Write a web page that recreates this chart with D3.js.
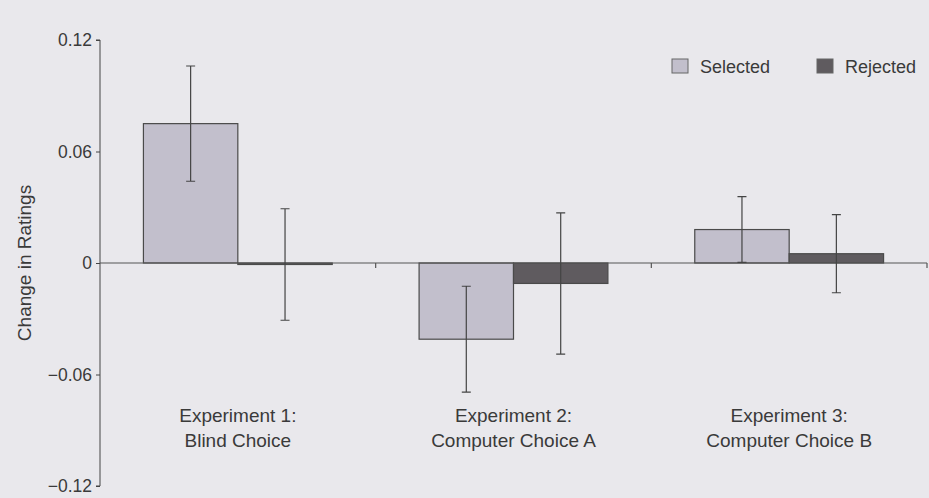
<!DOCTYPE html>
<html>
<head>
    <style>
        body { margin: 0; background: #e9e8ec; }
        svg { display: block; font-family: "Liberation Sans", Arial, sans-serif; }
        .tick text { font-size: 17.5px; fill: #3a3a3a; }
        .cat { font-size: 19px; fill: #3a3a3a; text-anchor: middle; }
        .legend text { font-size: 18px; fill: #3a3a3a; }
    </style>
    <script src="https://d3js.org/d3.v7.min.js"></script>
</head>
<body>
    <svg width="929" height="498"></svg>
    <script>
        // data
        var groups = ["exp1", "exp2", "exp3"];
        var groupLines = [["Experiment 1:", "Blind Choice"], ["Experiment 2:", "Computer Choice A"], ["Experiment 3:", "Computer Choice B"]];
        var series = ["Selected", "Rejected"];
        var selected = [0.075, -0.041, 0.018];
        var selectedErr = [0.031, 0.0285, 0.0177];
        var rejected = [-0.0008, -0.011, 0.005];
        var rejectedErr = [0.030, 0.038, 0.021];
        var yTicks = [-0.12, -0.06, 0, 0.06, 0.12];
        var yTickLabels = ["\u22120.12", "\u22120.06", "0", "0.06", "0.12"];

        var colors = { Selected: "#c2bfcc", Rejected: "#5f5b5f" };

        var svg = d3.select("svg");

        var x0 = d3.scaleBand().domain(groups).range([100, 927]).padding(0);
        var x1 = d3.scaleBand().domain(series).range([0, x0.bandwidth()]).paddingInner(0).paddingOuter(0.46);
        var y = d3.scaleLinear().domain([-0.12, 0.12]).range([486, 40]);

        var rows = [];
        groups.forEach(function(g, i) {
            rows.push({ group: g, key: "Selected", value: selected[i], err: selectedErr[i] });
            rows.push({ group: g, key: "Rejected", value: rejected[i], err: rejectedErr[i] });
        });

        // y axis
        var yAxis = svg.append("g").attr("transform", "translate(100,0)")
            .call(d3.axisLeft(y).tickValues(yTicks).tickSize(4).tickPadding(4)
                .tickFormat(function(d, i) { return yTickLabels[i]; }));
        yAxis.attr("font-family", null).attr("font-size", null);
        yAxis.select(".domain").attr("stroke", "#444").attr("d", "M-4," + y(0.12) + "H0V" + y(-0.12) + "H-4");
        yAxis.selectAll(".tick line").attr("stroke", "#444");

        svg.append("text")
            .attr("transform", "translate(31," + y(0) + ") rotate(-90)")
            .attr("text-anchor", "middle")
            .style("font-size", "19px").style("fill", "#3a3a3a")
            .text("Change in Ratings");

        // bars
        svg.append("g").selectAll("rect").data(rows).enter().append("rect")
            .attr("x", function(d) { return x0(d.group) + x1(d.key); })
            .attr("width", x1.bandwidth())
            .attr("y", function(d) { return y(Math.max(0, d.value)); })
            .attr("height", function(d) { return Math.abs(y(d.value) - y(0)); })
            .attr("fill", function(d) { return colors[d.key]; })
            .attr("stroke", "#4a4a4a").attr("stroke-width", 1.2);

        // zero axis with ticks between groups
        var xAxis = svg.append("g").attr("transform", "translate(0," + y(0) + ")");
        xAxis.append("line").attr("x1", 100).attr("x2", 927).attr("stroke", "#555").attr("stroke-width", 1.2);
        xAxis.selectAll(".xt").data(groups).enter().append("line")
            .attr("x1", function(d) { return x0(d) + x0.bandwidth(); })
            .attr("x2", function(d) { return x0(d) + x0.bandwidth(); })
            .attr("y1", 0).attr("y2", 5).attr("stroke", "#555").attr("stroke-width", 1.2);

        // error bars
        var eb = svg.append("g").attr("stroke", "#444").attr("stroke-width", 1.2).attr("fill", "none");
        var cx = function(d) { return x0(d.group) + x1(d.key) + x1.bandwidth() / 2; };
        eb.selectAll("path").data(rows).enter().append("path")
            .attr("d", function(d) {
                var c = cx(d), t = y(d.value + d.err), b = y(d.value - d.err);
                return "M" + (c - 4.5) + "," + t + "H" + (c + 4.5) + "M" + c + "," + t + "V" + b + "M" + (c - 4.5) + "," + b + "H" + (c + 4.5);
            });

        // category labels
        var cats = svg.append("g").selectAll("text").data(groups).enter().append("text")
            .attr("class", "cat")
            .attr("x", function(d) { return x0(d) + x0.bandwidth() / 2; })
            .attr("y", 422);
        cats.append("tspan").attr("x", function(d) { return x0(d) + x0.bandwidth() / 2; })
            .text(function(d, i) { return groupLines[i][0]; });
        cats.append("tspan").attr("x", function(d) { return x0(d) + x0.bandwidth() / 2; }).attr("dy", 25)
            .text(function(d, i) { return groupLines[i][1]; });

        // legend
        var legX = [672, 817];
        var leg = svg.append("g").attr("class", "legend").selectAll("g").data(series).enter().append("g")
            .attr("transform", function(d, i) { return "translate(" + legX[i] + ",59)"; });
        leg.append("rect").attr("width", 16).attr("height", 14)
            .attr("fill", function(d) { return colors[d]; }).attr("stroke", "#666");
        leg.append("text").attr("x", 28).attr("y", 14).text(function(d) { return d; });
    </script>
</body>
</html>
